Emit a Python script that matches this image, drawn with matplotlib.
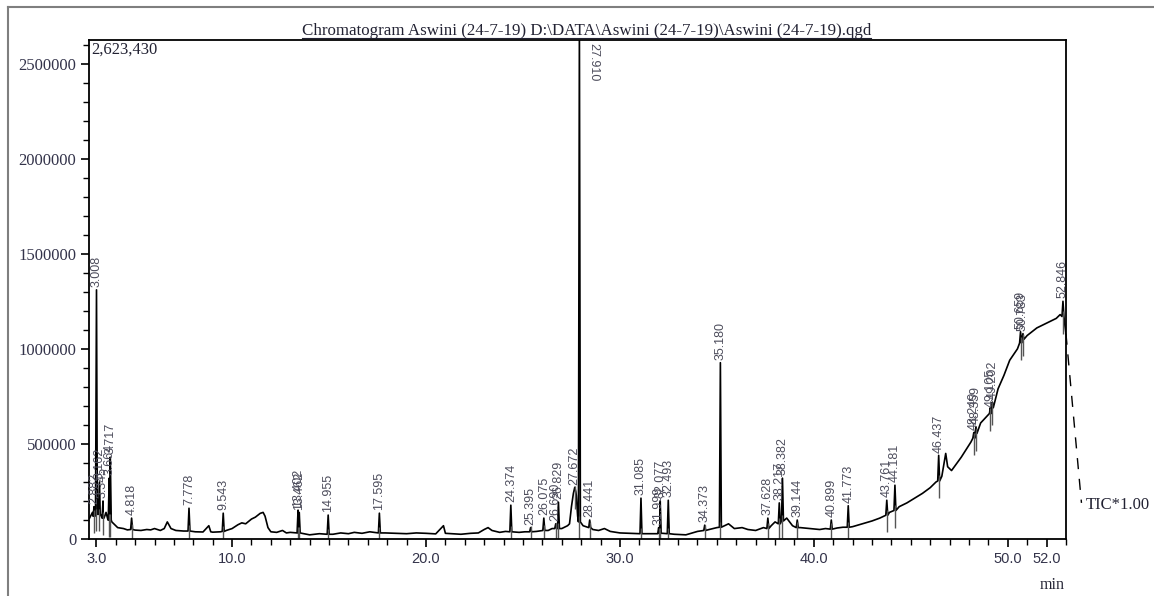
import matplotlib
matplotlib.use("Agg")
import numpy as np
import matplotlib.pyplot as plt
from matplotlib.lines import Line2D
from matplotlib.ticker import MultipleLocator

# baseline of the TIC trace (min, counts)
base_t = [2.65, 2.8, 2.9, 3.05, 3.2, 3.35, 3.5, 3.6, 3.8, 3.9, 4.1, 4.4, 4.6, 5.0,
          5.3, 5.6, 5.8, 6.0, 6.3, 6.5, 6.66, 6.85, 7.1, 7.5, 8.1, 8.5, 8.8, 8.9,
          9.0, 9.4, 9.7, 10.0, 10.3, 10.5, 10.7, 11.0, 11.2, 11.45, 11.6, 11.7,
          11.85, 12.0, 12.3, 12.6, 12.8, 13.0, 13.6, 14.0, 14.5, 15.2, 15.6, 16.0,
          16.3, 16.7, 17.1, 17.9, 18.5, 19.0, 19.5, 20.0, 20.5, 20.9, 21.0, 21.3,
          21.8, 22.3, 22.7, 23.0, 23.2, 23.4, 23.8, 24.1, 24.8, 25.1, 25.7, 26.3,
          26.5, 27.0, 27.3, 27.4, 27.5, 27.6, 27.75, 27.82, 28.1, 28.6, 28.9, 29.2,
          29.5, 30.0, 30.5, 31.5, 32.2, 32.8, 33.4, 34.0, 34.6, 35.0, 35.4, 35.6,
          35.9, 36.3, 36.6, 37.0, 37.4, 37.8, 38.0, 38.6, 38.9, 39.3, 39.8, 40.3,
          40.6, 41.2, 41.5, 42.0, 42.5, 43.0, 43.4, 43.9, 44.4, 44.8, 45.2, 45.6,
          46.0, 46.3, 46.6, 46.8, 46.9, 47.1, 47.6, 48.1, 48.6, 49.1, 49.5, 49.8,
          50.1, 50.5, 51.0, 51.5, 52.0, 52.5, 52.7, 52.95, 53.0]
base_v = [110000, 140000, 120000, 150000, 130000, 110000, 140000, 100000, 90000,
          80000, 60000, 55000, 48000, 47000, 45000, 50000, 48000, 55000, 45000,
          55000, 90000, 55000, 45000, 42000, 38000, 37000, 70000, 38000, 36000,
          38000, 45000, 55000, 75000, 85000, 80000, 105000, 115000, 135000, 140000,
          120000, 60000, 38000, 35000, 45000, 32000, 35000, 30000, 22000, 28000,
          25000, 32000, 28000, 35000, 30000, 38000, 32000, 30000, 28000, 32000,
          30000, 27000, 70000, 30000, 28000, 25000, 30000, 32000, 50000, 60000,
          45000, 35000, 40000, 35000, 38000, 40000, 45000, 55000, 55000, 70000,
          80000, 170000, 240000, 230000, 120000, 70000, 50000, 45000, 55000, 40000,
          32000, 30000, 28000, 30000, 25000, 22000, 40000, 50000, 60000, 70000,
          80000, 55000, 60000, 50000, 45000, 60000, 70000, 90000, 110000, 70000,
          60000, 55000, 50000, 55000, 58000, 62000, 65000, 80000, 95000, 110000,
          140000, 170000, 190000, 215000, 240000, 270000, 300000, 330000, 450000,
          380000, 360000, 430000, 510000, 610000, 690000, 790000, 860000, 940000,
          1000000, 1070000, 1110000, 1135000, 1160000, 1180000, 1120000, 1080000]

# labelled peaks: retention time, apex height, height of the foot
peak_t = [2.882, 3.008, 3.162, 3.345, 3.664, 3.717, 4.818, 7.778, 9.543, 13.402,
          13.462, 14.955, 17.595, 24.374, 25.395, 26.075, 26.690, 26.829, 27.672,
          27.910, 28.441, 31.085, 31.999, 32.077, 32.493, 34.373, 35.180, 37.628,
          38.217, 38.382, 39.144, 40.899, 41.773, 43.761, 44.181, 46.437, 48.249,
          48.359, 49.105, 49.202, 50.659, 50.783, 52.846]
peak_top = [170000, 1310000, 300000, 200000, 320000, 430000, 110000, 162000,
            136000, 152000, 140000, 126000, 136000, 178000, 60000, 110000, 80000,
            194000, 272000, 2700000, 100000, 215000, 60000, 200000, 204000, 73000,
            927000, 110000, 190000, 320000, 100000, 100000, 175000, 204000, 283000,
            440000, 560000, 590000, 680000, 720000, 1090000, 1080000, 1250000]
peak_foot = [120000, 130000, 130000, 110000, 100000, 100000, 50000, 42000, 40000,
             32000, 32000, 25000, 32000, 38000, 38000, 45000, 55000, 55000, 250000,
             90000, 60000, 28000, 28000, 30000, 28000, 45000, 62000, 55000, 80000,
             95000, 60000, 52000, 62000, 125000, 150000, 305000, 530000, 555000,
             660000, 690000, 1030000, 1050000, 1170000]
peak_labels = ["2.882", "3.008", "3.162", "3.345", "3.664", "3.717", "4.818", "7.778",
               "9.543", "13.402", "13.462", "14.955", "17.595", "24.374", "25.395",
               "26.075", "26.690", "26.829", "27.672", "27.910", "28.441", "31.085",
               "31.999", "32.077", "32.493", "34.373", "35.180", "37.628", "38.217",
               "38.382", "39.144", "40.899", "41.773", "43.761", "44.181", "46.437",
               "48.249", "48.359", "49.105", "49.202", "50.659", "50.783", "52.846"]

x_ticks = [3.0, 10.0, 20.0, 30.0, 40.0, 50.0, 52.0]
x_tick_labels = ["3.0", "10.0", "20.0", "30.0", "40.0", "50.0", "52.0"]
y_ticks = [0, 500000, 1000000, 1500000, 2000000, 2500000]
y_tick_labels = ["0", "500000", "1000000", "1500000", "2000000", "2500000"]
y_max = 2623430

# dashed TIC legend stroke leaving the plot on the right
tic_t = [53.0, 53.8]
tic_v = [1080000, 190000]

title = r"Chromatogram Aswini (24-7-19) D:\DATA\Aswini (24-7-19)\Aswini (24-7-19).qgd"


def build_trace():
    half = 0.05
    pts = list(zip(base_t, base_v))
    for t, top, foot in zip(peak_t, peak_top, peak_foot):
        pts += [(t - half, foot), (t, top), (t + half, foot)]
    pts.sort(key=lambda p: p[0])
    return np.array([p[0] for p in pts]), np.array([p[1] for p in pts])


def main():
    fig = plt.figure(figsize=(11.54, 5.96), dpi=100)
    ax = fig.add_axes([0.0771, 0.0956, 0.8466, 0.8372])

    tt, vv = build_trace()
    ax.plot(tt, vv, color="black", lw=1.2)

    # integration marks under each peak
    ax.vlines(peak_t, np.array(peak_foot) - 90000, np.array(peak_foot) + 30000,
              color="#555555", lw=1.0)

    label_kw = dict(rotation=90, ha="center", va="bottom", fontsize=9,
                    color="#4d4d5c", family="Liberation Sans")
    for t, top, lab in zip(peak_t, peak_top, peak_labels):
        if top > y_max:
            ax.annotate(lab, (t, y_max), xytext=(10, -2), textcoords="offset points",
                        rotation=270, ha="center", va="top", fontsize=9,
                        color="#4d4d5c", family="Liberation Sans")
        else:
            ax.annotate(lab, (t, top), xytext=(0, 2), textcoords="offset points",
                        **label_kw)

    ax.plot(tic_t, tic_v, color="black", lw=1.0, ls=(0, (8, 7)), clip_on=False)

    ax.set_xlim(2.62, 53.0)
    ax.set_ylim(0, y_max)
    ax.set_xticks(x_ticks)
    ax.set_xticklabels(x_tick_labels, family="Liberation Sans", fontsize=10.5,
                       color="#33334a")
    ax.set_yticks(y_ticks)
    ax.set_yticklabels(y_tick_labels, family="Liberation Serif", fontsize=12,
                       color="#33334a")
    ax.xaxis.set_minor_locator(MultipleLocator(1))
    ax.yaxis.set_minor_locator(MultipleLocator(100000))
    ax.tick_params(which="major", direction="out", length=6, width=1.2, pad=3)
    ax.tick_params(which="minor", direction="out", length=4, width=1.0)
    for sp in ax.spines.values():
        sp.set_linewidth(1.3)

    ax.text(0.002, 0.997, "2,623,430", transform=ax.transAxes, va="top", ha="left",
            family="Liberation Serif", fontsize=12, color="#222233")

    fig.text(0.9405, 0.153, "TIC*1.00", va="center", ha="left",
             family="Liberation Serif", fontsize=12, color="#222233")
    fig.text(0.9116, 0.018, "min", va="center", ha="center",
             family="Liberation Serif", fontsize=11.5, color="#222233")

    ttl = fig.text(0.508, 0.941, title, ha="center", va="baseline",
                   family="Liberation Serif", fontsize=12.2, color="#222233")

    # outer page frame
    fig.add_artist(Line2D([0.0069, 1.0], [0.988, 0.988], color="#7f7f7f", lw=1.5,
                          transform=fig.transFigure))
    fig.add_artist(Line2D([0.0069, 0.0069], [0.0, 0.988], color="#7f7f7f", lw=1.5,
                          transform=fig.transFigure))

    # underline the title
    fig.canvas.draw()
    bb = ttl.get_window_extent().transformed(fig.transFigure.inverted())
    fig.add_artist(Line2D([bb.x0, bb.x1], [0.937, 0.937], color="#222233", lw=0.8,
                          transform=fig.transFigure))

    fig.savefig("out.png", dpi=100)
    plt.close(fig)


if __name__ == "__main__":
    main()
